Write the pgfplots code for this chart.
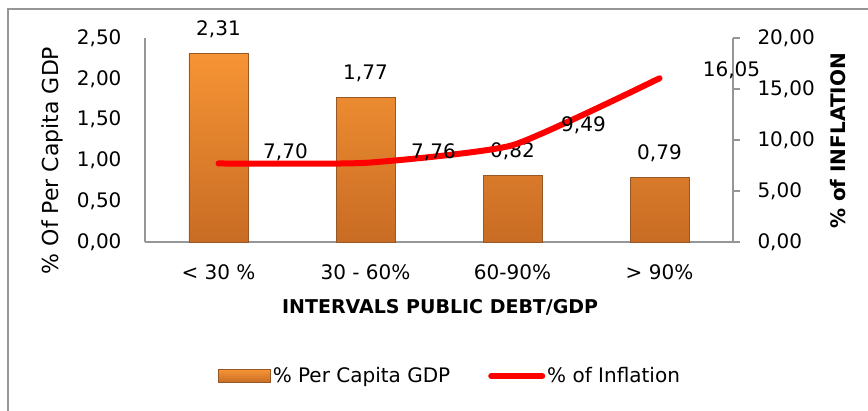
\documentclass[border=0pt]{standalone}
\usepackage{fontspec}
\setmainfont{DejaVu Sans}
\usepackage{pgfplots}
\usepackage{pgfplotstable}
\pgfplotsset{compat=1.18}
\definecolor{bartop}{RGB}{246,148,52}
\definecolor{barbot}{RGB}{200,108,36}
\definecolor{barline}{RGB}{150,88,40}
\definecolor{axgray}{RGB}{150,150,150}
\definecolor{framegray}{RGB}{150,150,150}

\pgfplotstableread{
x y
0 2.31
1 1.77
2 0.82
3 0.79
}\gdp
\pgfplotstableread{
x y dx dy
0 7.70 67 11
1 7.76 68 11
2 9.49 71 20
3 16.05 72 8
}\infl

\begin{document}
\begin{tikzpicture}[font=\fontsize{20bp}{24bp}\selectfont]
\path[use as bounding box] (-145bp,-169bp) rectangle (723bp,242bp);
\draw[framegray, line width=1.5bp] (-137bp,-200bp) -- (-137bp,233bp) -- (760bp,233bp);
\begin{axis}[
  scale only axis, width=588bp, height=204bp,
  xmin=-0.5, xmax=3.5, ymin=0, ymax=2.5,
  axis x line*=bottom, axis y line*=left,
  axis line style={axgray, line width=1.2bp, -},
  xtick={0,1,2,3},
  xticklabels={{< 30 \%},{30 - 60\%},{60-90\%},{> 90\%}},
  ytick={0,0.5,1,1.5,2,2.5},
  major tick length=0pt,
  xticklabel style={anchor=center, yshift=-30bp},
  yticklabel style={anchor=east, xshift=-20bp},
  /pgf/number format/fixed,
  /pgf/number format/fixed zerofill,
  /pgf/number format/precision=2,
  /pgf/number format/use comma,
  /pgf/number format/assume math mode=true,
  ylabel={\% Of Per Capita GDP},
  ylabel style={at={(axis description cs:-0.158,0.40)}, anchor=center, font=\fontsize{22bp}{26bp}\selectfont},
  xlabel={INTERVALS PUBLIC DEBT/GDP},
  xlabel style={at={(axis description cs:0.502,-0.319)}, anchor=center, font=\bfseries\fontsize{19bp}{23bp}\selectfont},
  clip=false,
]
\addplot[ybar, bar width=59bp, top color=bartop, bottom color=barbot, draw=barline, line width=0.8bp] table {\gdp};
\addplot[ybar, bar width=59bp, draw=none, fill=none, nodes near coords, point meta=y,
  every node near coord/.append style={anchor=center, yshift=24bp, text=black}] table {\gdp};
\end{axis}
\begin{axis}[
  scale only axis, width=588bp, height=204bp,
  xmin=-0.5, xmax=3.5, ymin=0, ymax=20,
  axis x line=none, axis y line*=right,
  axis line style={axgray, line width=1.2bp, -},
  ytick={0,5,10,15,20},
  ytick style={axgray, line width=1.2bp},
  tick align=outside, major tick length=7bp,
  yticklabel style={anchor=west, xshift=14bp},
  /pgf/number format/fixed,
  /pgf/number format/fixed zerofill,
  /pgf/number format/precision=2,
  /pgf/number format/use comma,
  /pgf/number format/assume math mode=true,
  ylabel={\textbf{\% of INFLATION}},
  ylabel style={at={(axis description cs:1.179,0.495)}, anchor=center},
  clip=false,
  legend style={at={(axis description cs:0.519,-0.657)}, anchor=center, draw=none, fill=none,
    legend columns=2, /tikz/every even column/.append style={column sep=36bp}},
  legend cell align=left,
]
\addlegendimage{legend image code/.code={\draw[top color=bartop,bottom color=barbot,draw=barline] (0bp,-6.5bp) rectangle (52bp,6.5bp);}}
\addlegendentry{\% Per Capita GDP}
\addplot[red, line width=6bp, line cap=round, line join=round, smooth, tension=0.3,
  nodes near coords, point meta=y,
  visualization depends on={\thisrow{dx} \as \dx},
  visualization depends on={\thisrow{dy} \as \dy},
  every node near coord/.append style={anchor=center, xshift=\dx bp, yshift=\dy bp, text=black},
  legend image code/.code={\draw[red,line width=6bp,line cap=round] (3bp,0bp) -- (54bp,0bp);}
] table {\infl};
\addlegendentry{\% of Inflation}
\end{axis}
\end{tikzpicture}
\end{document}
